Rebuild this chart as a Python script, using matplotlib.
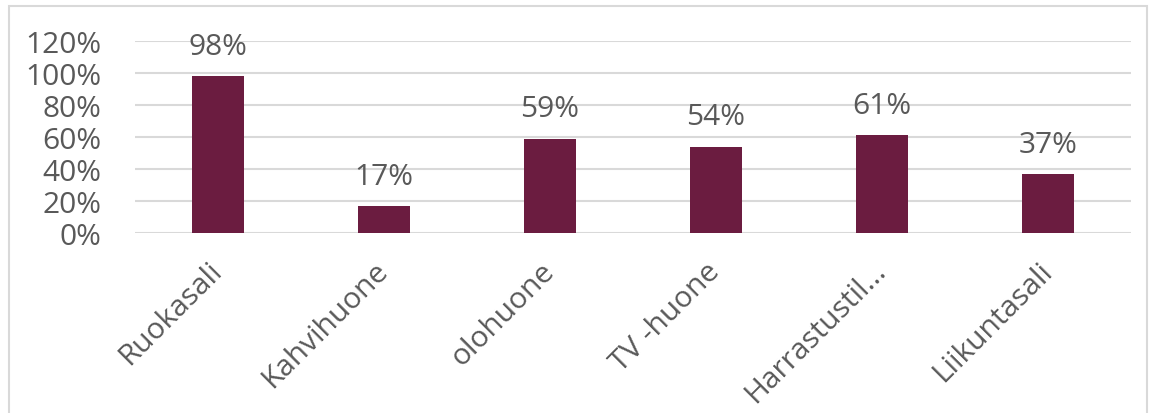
import matplotlib.pyplot as plt
from matplotlib.ticker import PercentFormatter
from matplotlib.patches import Rectangle

rooms = ['Ruokasali', 'Kahvihuone', 'olohuone', 'TV -huone', 'Harrastustil...', 'Liikuntasali']
usage = [98, 17, 59, 54, 61, 37]

bar_color = '#6B1C40'
text_color = '#595959'
grid_color = '#D9D9D9'

plt.rcParams['font.family'] = ['Open Sans', 'DejaVu Sans']
fs = 21.5

fig = plt.figure(figsize=(11.5, 4.14), dpi=100)
ax = fig.add_axes([135 / 1150, 1 - 234 / 414, 996 / 1150, 192 / 414])

# light frame round the whole chart area
fig.patches.append(Rectangle((9 / 1150, -0.05), 1138 / 1150, 1 - 7 / 414 + 0.05,
                             transform=fig.transFigure, fill=False,
                             edgecolor=grid_color, linewidth=1.5))

x = range(len(rooms))
bars = ax.bar(x, usage, width=0.31, color=bar_color, zorder=3)

for rect, val in zip(bars, usage):
    ax.annotate(f'{val}%', (rect.get_x() + rect.get_width() / 2, val),
                xytext=(0, 11), textcoords='offset points',
                ha='center', va='bottom', fontsize=fs, color=text_color)

ax.set_xlim(-0.5, len(rooms) - 0.5)
ax.set_ylim(0, 120)
ax.set_yticks(range(0, 121, 20))
ax.yaxis.set_major_formatter(PercentFormatter(decimals=0))
ax.grid(axis='y', color=grid_color, linewidth=1.5, zorder=0)

ax.set_xticks(list(x))
ax.set_xticklabels(rooms, rotation=45, ha='right', va='center',
                   rotation_mode='anchor', fontsize=fs, color=text_color)
ax.tick_params(axis='x', length=0, pad=24)
ax.tick_params(axis='y', length=0, pad=24, labelsize=fs, labelcolor=text_color)
for lbl in ax.get_yticklabels():
    lbl.set_horizontalalignment('right')

for s in ax.spines.values():
    s.set_visible(False)

fig.savefig('out.png', dpi=100)
